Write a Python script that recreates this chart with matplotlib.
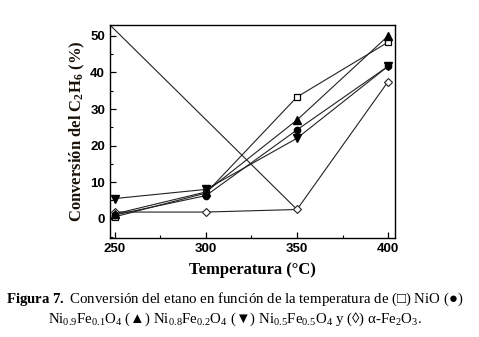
import matplotlib
matplotlib.use("Agg")
import matplotlib.pyplot as plt
from matplotlib.ticker import MultipleLocator

plt.rcParams['mathtext.fontset'] = 'custom'
plt.rcParams['mathtext.rm'] = 'Liberation Serif'
plt.rcParams['mathtext.it'] = 'Liberation Serif:italic'
plt.rcParams['mathtext.bf'] = 'Liberation Serif:bold'

temps = [250, 300, 350, 400]
nio = [0.5, 7.0, 33.3, 48.3]
ni09 = [1.0, 6.3, 24.3, 41.7]
ni08 = [1.3, 7.3, 27.0, 50.0]
ni05 = [5.5, 8.0, 22.0, 41.7]
fe2o3 = [1.8, 1.8, 2.5, 37.5]
diag_x = [247.3, 350]
diag_y = [53.0, 2.5]

xticks = [250, 300, 350, 400]
yticks = [0, 10, 20, 30, 40, 50]

fig = plt.figure(figsize=(4.79, 3.37), dpi=100)
ax = fig.add_axes([0.2296, 0.2938, 0.595, 0.632])

lc = '#222222'
lw = 0.8
ax.plot(diag_x, diag_y, color=lc, lw=lw)
ax.plot(temps, fe2o3, color=lc, lw=lw, marker='D', ms=4.2, mfc='white', mec=lc, mew=0.8)
ax.plot(temps, nio, color=lc, lw=lw, marker='s', ms=4, mfc='white', mec='black', mew=0.9)
ax.plot(temps, ni09, color=lc, lw=lw, marker='o', ms=4.5, mfc='black', mec='black')
ax.plot(temps, ni08, color=lc, lw=lw, marker='^', ms=5.5, mfc='black', mec='black')
ax.plot(temps, ni05, color=lc, lw=lw, marker='v', ms=5.5, mfc='black', mec='black')

ax.set_xlim(247.3, 403.8)
ax.set_ylim(-5.3, 53)
ax.set_xticks(xticks)
ax.set_yticks(yticks)
ax.xaxis.set_minor_locator(MultipleLocator(25))
ax.yaxis.set_minor_locator(MultipleLocator(5))
ax.tick_params(which='both', direction='in', top=False, right=False)
ax.tick_params(which='major', length=4, width=0.9)
ax.tick_params(which='minor', length=2.5, width=0.8)
for lab in ax.get_xticklabels() + ax.get_yticklabels():
    lab.set_fontfamily('Liberation Sans')
    lab.set_fontweight('bold')
    lab.set_fontsize(9.5)
for s in ax.spines.values():
    s.set_linewidth(1.0)

ax.set_xlabel('Temperatura (°C)', family='Liberation Serif', fontweight='bold', fontsize=12, labelpad=5)
ax.set_ylabel(r'Conversión del C$_\mathbf{2}$H$_\mathbf{6}$ (%)', family='Liberation Serif',
              fontweight='bold', fontsize=12, labelpad=2, color='#1a1208')

fam = ['Liberation Serif', 'DejaVu Serif']
fig.text(0.49, 1 - 299/337, r'$\mathbf{Figura\ 7.}$ Conversión del etano en función de la temperatura de (□) NiO (●)',
         family=fam, fontsize=10.7, ha='center', va='center')
fig.text(0.49, 1 - 319/337,
         r'Ni$_{\mathrm{0.9}}$Fe$_{\mathrm{0.1}}$O$_{\mathrm{4}}$ (▲) Ni$_{\mathrm{0.8}}$Fe$_{\mathrm{0.2}}$O$_{\mathrm{4}}$ (▼) '
         r'Ni$_{\mathrm{0.5}}$Fe$_{\mathrm{0.5}}$O$_{\mathrm{4}}$ y (◊) α-Fe$_{\mathrm{2}}$O$_{\mathrm{3}}$.',
         family=fam, fontsize=10.7, ha='center', va='center')

fig.savefig('out.png', dpi=100)
